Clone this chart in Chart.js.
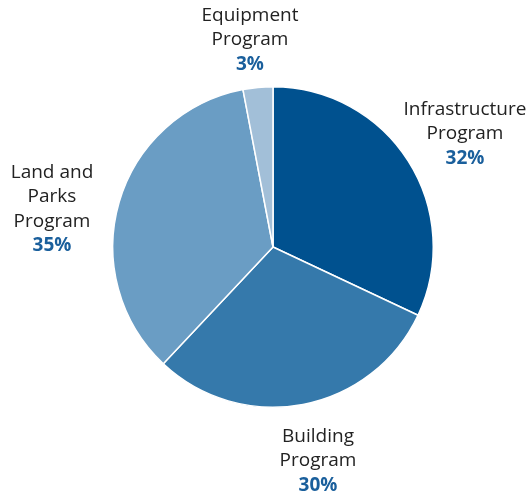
<!DOCTYPE html>
<html>
<head>
<meta charset="utf-8">
<script src="https://cdn.jsdelivr.net/npm/chart.js@4"></script>
<style>
  html, body { margin:0; padding:0; background:#fff; }
  #wrap { width:528px; height:496px; position:relative; }
</style>
</head>
<body>
<div id="wrap"><canvas id="pie" width="528" height="496"></canvas></div>
<script>
// data
const programs = [['Infrastructure','Program'], ['Building','Program'], ['Land and','Parks','Program'], ['Equipment','Program']];
const shares = [32, 30, 35, 3];
const colors = ['#00518f', '#3579ab', '#6a9dc4', '#a2bfd8'];

// label block centres, relative to pie centre (px)
const labelOffsets = [[192,-113], [45,214], [-221,-38], [-23,-207]];

const outsideLabels = {
  id: 'outsideLabels',
  afterDraw(chart) {
    const ctx = chart.ctx;
    const arcs = chart.getDatasetMeta(0).data;
    ctx.save();
    ctx.textAlign = 'center';
    ctx.textBaseline = 'middle';
    arcs.forEach((arc, i) => {
      const lines = programs[i];
      const lh = 24.5;
      const n = lines.length + 1;
      const cx = arc.x + labelOffsets[i][0];
      const cy = arc.y + labelOffsets[i][1];
      let y = cy - (n - 1) * lh / 2;
      ctx.fillStyle = '#222';
      ctx.font = '19px "Open Sans", sans-serif';
      lines.forEach(t => { ctx.fillText(t, cx, y); y += lh; });
      ctx.fillStyle = '#1a5f9c';
      ctx.font = 'bold 19px "Open Sans", sans-serif';
      ctx.fillText(shares[i] + '%', cx, y);
    });
    ctx.restore();
  }
};

new Chart(document.getElementById('pie').getContext('2d'), {
  type: 'pie',
  data: {
    labels: programs.map(p => p.join(' ')),
    datasets: [{ data: shares, backgroundColor: colors, borderColor: '#fff', borderWidth: 1.5 }]
  },
  options: {
    responsive: false,
    animation: false,
    layout: { padding: { left: 112, right: 94, top: 86, bottom: 88 } },
    plugins: { legend: { display: false }, tooltip: { enabled: false } }
  },
  plugins: [outsideLabels]
});
</script>
</body>
</html>
